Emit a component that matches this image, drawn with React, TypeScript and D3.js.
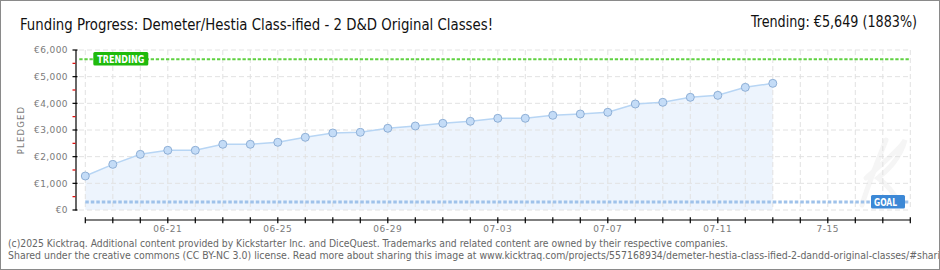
import React from "react";
import * as d3 from "d3";

const dates: string[] = [
  "2025-06-18", "2025-06-19", "2025-06-20", "2025-06-21", "2025-06-22", "2025-06-23",
  "2025-06-24", "2025-06-25", "2025-06-26", "2025-06-27", "2025-06-28", "2025-06-29",
  "2025-06-30", "2025-07-01", "2025-07-02", "2025-07-03", "2025-07-04", "2025-07-05",
  "2025-07-06", "2025-07-07", "2025-07-08", "2025-07-09", "2025-07-10", "2025-07-11",
  "2025-07-12", "2025-07-13",
];
const pledged: number[] = [
  1275, 1712, 2087, 2239, 2239, 2464, 2464, 2539, 2726, 2888, 2914, 3064, 3150,
  3251, 3326, 3439, 3439, 3551, 3600, 3664, 3975, 4039, 4226, 4300, 4600, 4750,
];
const axisStart = "2025-06-18";
const axisEnd = "2025-07-18";
const xLabelDates: string[] = ["2025-06-21", "2025-06-25", "2025-06-29", "2025-07-03", "2025-07-07", "2025-07-11", "2025-07-15"];
const xLabels: string[] = ["06-21", "06-25", "06-29", "07-03", "07-07", "07-11", "7-15"];
const yTicks: number[] = [0, 1000, 2000, 3000, 4000, 5000, 6000];
const yLabels: string[] = ["€0", "€1,000", "€2,000", "€3,000", "€4,000", "€5,000", "€6,000"];
const yMinorTicks: number[] = [500, 1500, 2500, 3500, 4500, 5500];
const goal = 300;
const trending = 5649;

const title = "Funding Progress: Demeter/Hestia Class-ified - 2 D&D Original Classes!";
const trendText = "Trending: €5,649 (1883%)";
const footer1 = "(c)2025 Kicktraq. Additional content provided by Kickstarter Inc. and DiceQuest. Trademarks and related content are owned by their respective companies.";
const footer2 = "Shared under the creative commons (CC BY-NC 3.0) license. Read more about sharing this image at www.kicktraq.com/projects/557168934/demeter-hestia-class-ified-2-dandd-original-classes/#sharing";

const parse = d3.utcParse("%Y-%m-%d");

export default function App() {
  const W = 940, H = 270;
  const x = d3.scaleUtc().domain([parse(axisStart)!, parse(axisEnd)!]).range([85.3, 910.3]);
  const y = d3.scaleLinear().domain([0, 6000]).range([210, 50]);
  const allDays = d3.utcDay.range(parse(axisStart)!, d3.utcDay.offset(parse(axisEnd)!, 1));
  const pts = dates.map((d, i) => ({ d: parse(d)!, v: pledged[i] }));
  const area = d3.area<any>().x((p) => x(p.d)).y0(y(0)).y1((p) => y(p.v));
  const line = d3.line<any>().x((p) => x(p.d)).y((p) => y(p.v));
  const xL = x.range()[0], xR = x.range()[1];
  const pix = "'DejaVu Sans', sans-serif";
  const axisColor = "#7a7a7a";

  return (
    <svg width={W} height={H} style={{ position: "absolute", left: 0, top: 0, background: "#fff" }}>
      <rect x={0} y={0} width={W} height={H} fill="#fff" />
      {/* watermark (faint script K) */}
      <g fill="none" stroke="#f5f5f5" strokeWidth={5} strokeLinecap="round">
        <path d="M862,205 C868,185 878,160 886,140" />
        <path d="M866,178 C880,165 900,150 905,140 C900,160 885,172 878,178 C888,185 895,195 900,205" />
      </g>
      {/* area */}
      <path d={area(pts)!} fill="#edf4fd" />
      {/* grid */}
      {allDays.map((d, i) => (
        <line key={"vg" + i} x1={x(d)} x2={x(d)} y1={y(6000)} y2={y(0)} stroke="#e2e2e2" strokeDasharray="5,3" />
      ))}
      {yTicks.map((t) => (
        <line key={"hg" + t} x1={79} x2={xR} y1={y(t)} y2={y(t)} stroke="#e2e2e2" strokeDasharray="5,3" />
      ))}
      {/* goal line */}
      <line x1={xL} x2={xR} y1={y(goal)} y2={y(goal)} stroke="#9fc2ea" strokeWidth={3} strokeDasharray="3.5,2" />
      {/* trending line */}
      <line x1={xL - 6} x2={xR} y1={y(trending)} y2={y(trending)} stroke="#5fd141" strokeWidth={2} strokeDasharray="3.3,1.8" />
      {/* series */}
      <path d={line(pts)!} fill="none" stroke="#b7d5f4" strokeWidth={1.5} />
      {pts.map((p, i) => (
        <circle key={"pt" + i} cx={x(p.d)} cy={y(p.v)} r={4} fill="#c4dcf7" stroke="#8eafd6" strokeWidth={1} />
      ))}
      {/* trending label */}
      <rect x={93.3} y={52} width={55} height={13.5} rx={1.5} fill="#1fba0c" />
      <text x={120.8} y={62.5} textAnchor="middle" fontFamily={pix} fontWeight="bold" fontSize={10} fill="#fff" textLength={47} lengthAdjust="spacingAndGlyphs">TRENDING</text>
      {/* goal label */}
      <rect x={871} y={195} width={34} height={13.5} rx={1.5} fill="#3c88d6" />
      <text x={874} y={205.8} fontFamily={pix} fontWeight="bold" fontSize={10} fill="#fff" textLength={23} lengthAdjust="spacingAndGlyphs">GOAL</text>
      {/* y axis */}
      <line x1={76} x2={76} y1={y(6000)} y2={y(0) + 0.5} stroke="#000" strokeWidth={1.2} />
      {yTicks.map((t, i) => (
        <g key={"yt" + t}>
          <line x1={72.5} x2={77.5} y1={y(t)} y2={y(t)} stroke="#000" strokeWidth={1.2} />
          <text x={68} y={y(t) + 3.3} textAnchor="end" fontFamily={pix} fontSize={9} fill={axisColor} letterSpacing={0.4}>{yLabels[i]}</text>
        </g>
      ))}
      {yMinorTicks.map((t) => (
        <line key={"ym" + t} x1={72.5} x2={75.5} y1={y(t)} y2={y(t)} stroke="#e00000" strokeWidth={1.2} />
      ))}
      <text transform="translate(24,130) rotate(-90)" textAnchor="middle" fontFamily={pix} fontSize={8.5} fill={axisColor} letterSpacing={1.2}>PLEDGED</text>
      {/* x axis */}
      <line x1={xL} x2={xR} y1={220} y2={220} stroke="#000" strokeWidth={1.2} />
      {allDays.map((d, i) => (
        <line key={"xt" + i} x1={x(d)} x2={x(d)} y1={217.3} y2={223.3} stroke="#000" strokeWidth={1.2} />
      ))}
      {xLabelDates.map((d, i) => (
        <text key={"xl" + i} x={x(parse(d)!)} y={231.8} textAnchor="middle" fontFamily={pix} fontSize={9} fill={axisColor} letterSpacing={0.6}>{xLabels[i]}</text>
      ))}
      {/* titles */}
      <text x={20} y={29.5} fontFamily="'DejaVu Sans Condensed', 'Liberation Sans Narrow', 'DejaVu Sans', sans-serif" fontSize={15.5} fill="#111" textLength={473} lengthAdjust="spacingAndGlyphs">{title}</text>
      <text x={751} y={26.7} fontFamily="'DejaVu Sans Condensed', 'Liberation Sans Narrow', 'DejaVu Sans', sans-serif" fontSize={15.5} fill="#111" textLength={166} lengthAdjust="spacingAndGlyphs">{trendText}</text>
      {/* footer */}
      <text x={8} y={246.5} fontFamily="'DejaVu Sans Condensed', 'DejaVu Sans', sans-serif" fontSize={10} fill="#666" textLength={720} lengthAdjust="spacingAndGlyphs">{footer1}</text>
      <text x={8} y={258.5} fontFamily="'DejaVu Sans Condensed', 'DejaVu Sans', sans-serif" fontSize={10} fill="#666" textLength={944} lengthAdjust="spacingAndGlyphs">{footer2}</text>
      {/* frame */}
      <rect x={0.5} y={0.5} width={W - 1} height={H - 1} fill="none" stroke="#8a8a8a" strokeWidth={1} />
    </svg>
  );
}
